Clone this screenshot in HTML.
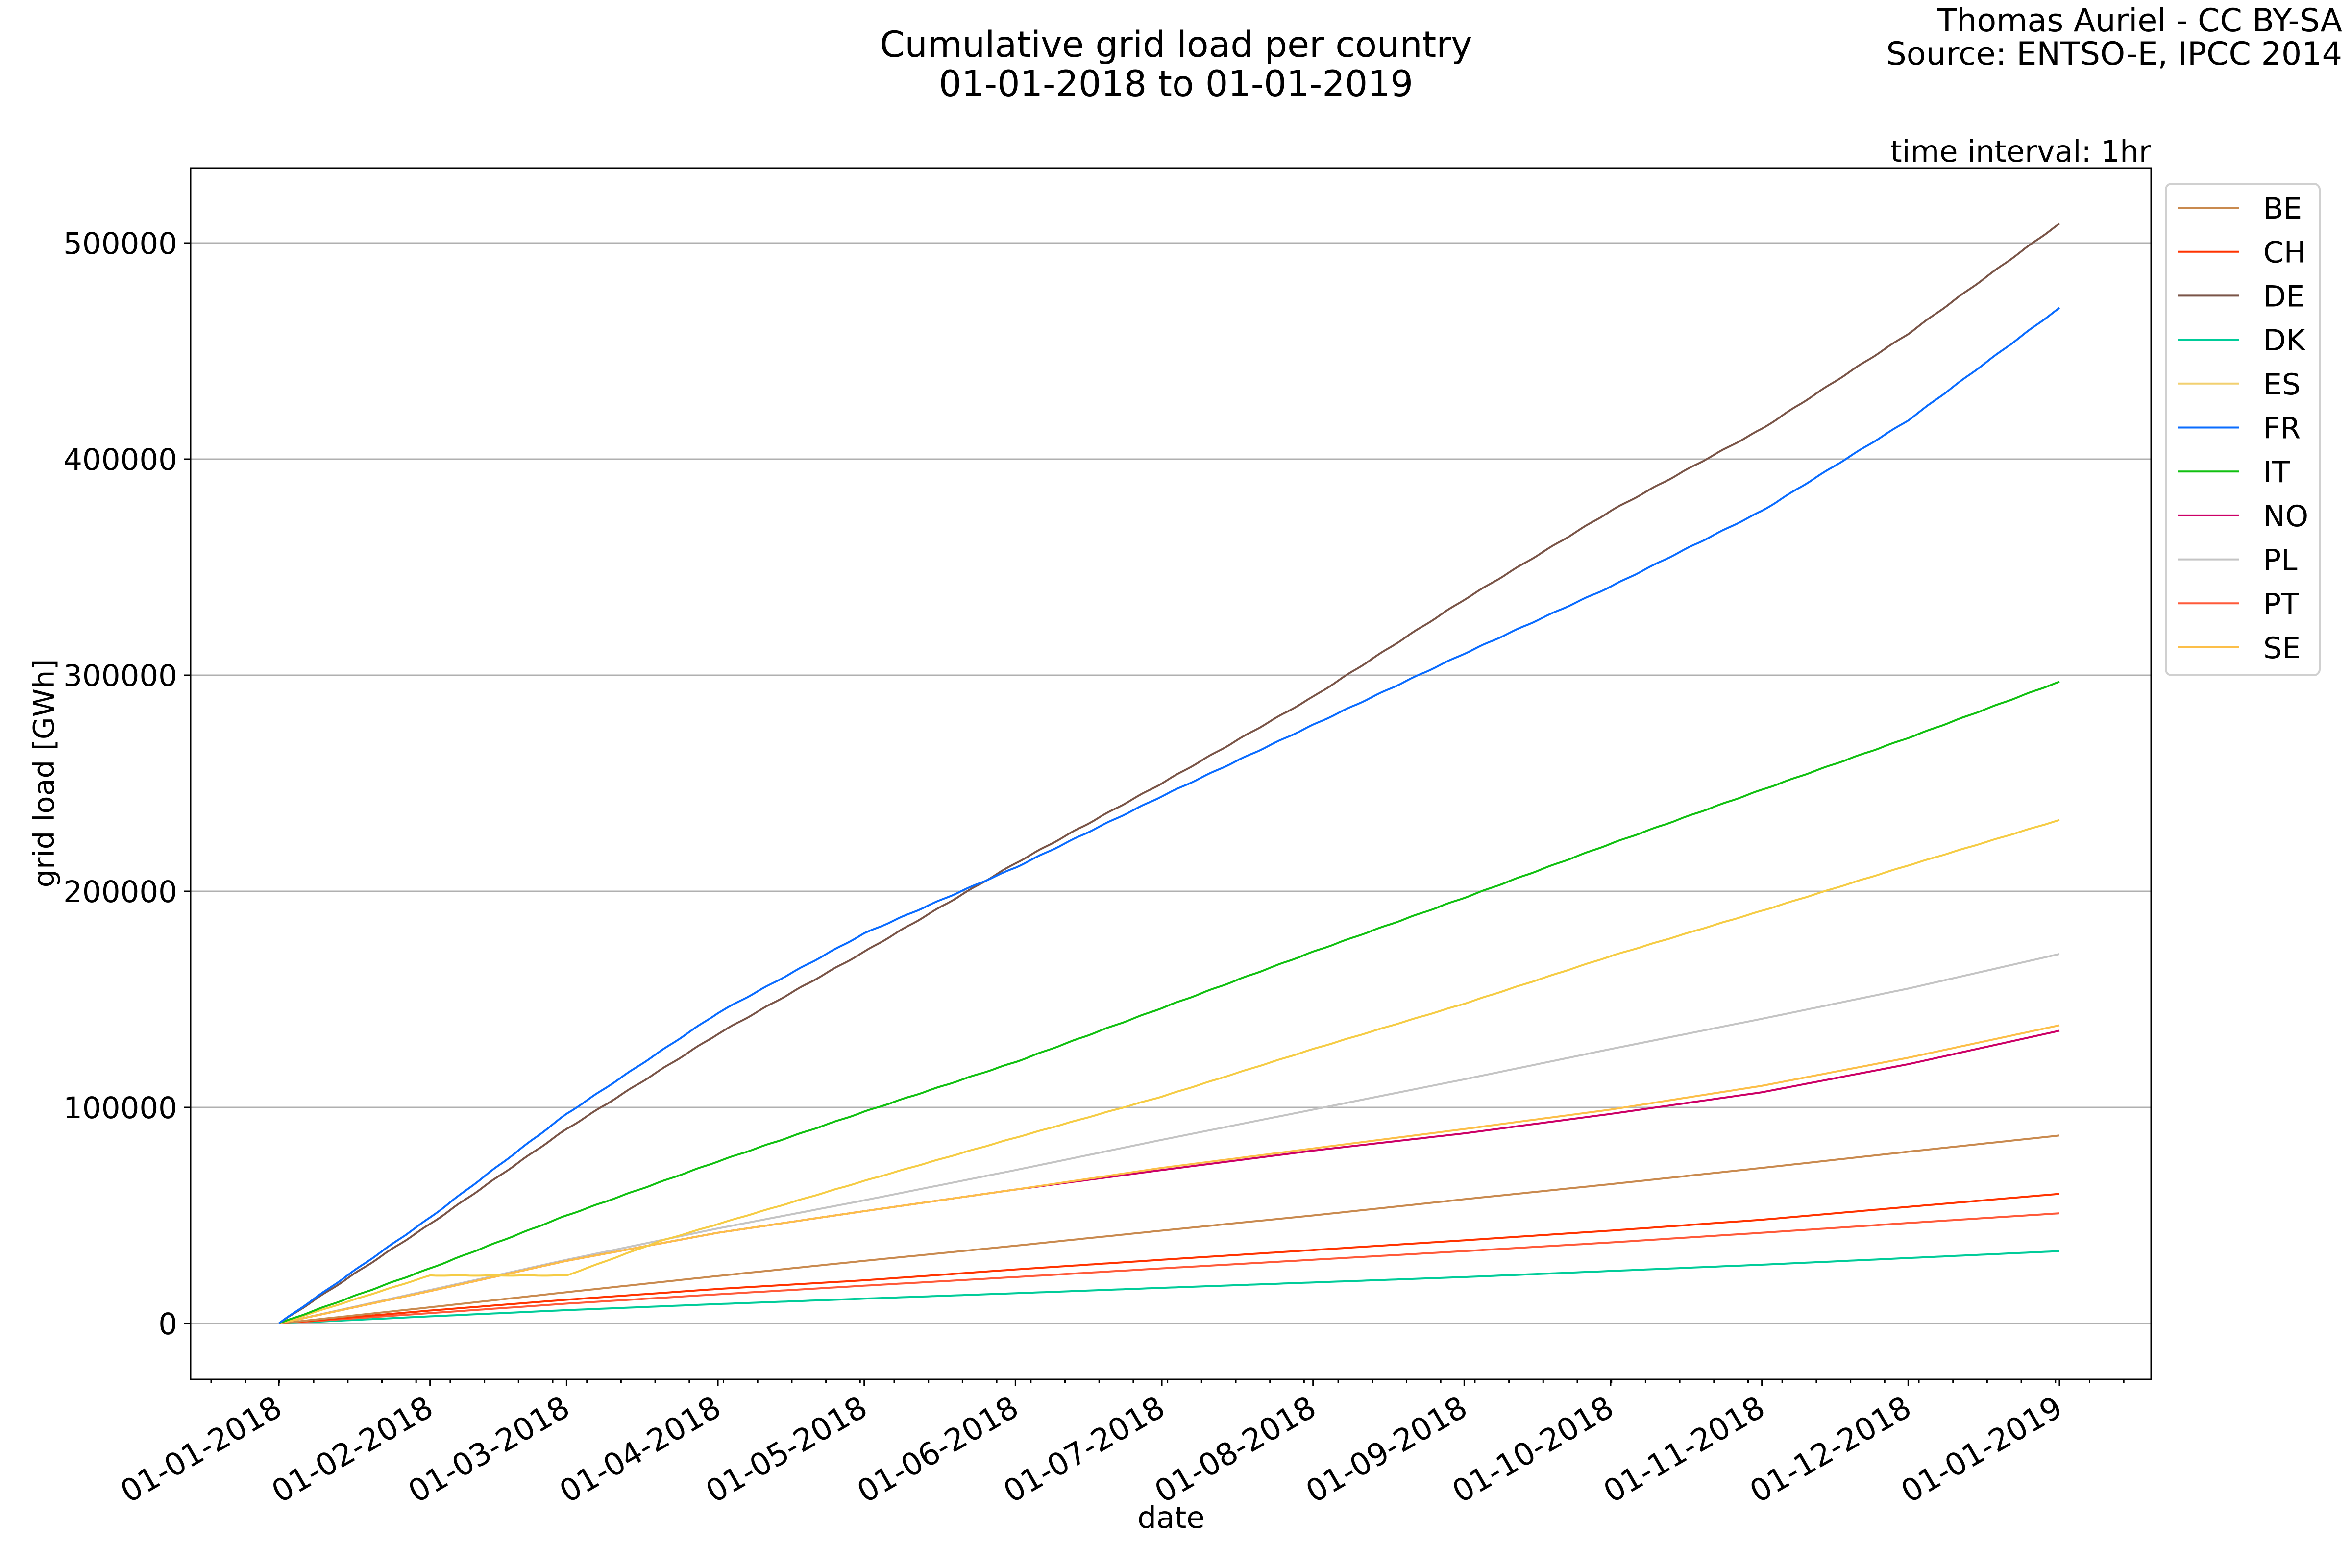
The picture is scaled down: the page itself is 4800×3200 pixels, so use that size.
<!DOCTYPE html>
<html><head><meta charset="utf-8"><style>
html,body{margin:0;padding:0;background:#fff}
svg{display:block;font-family:"DejaVu Sans","Liberation Sans",sans-serif}
</style></head><body>
<svg id="s" width="4800" height="3200" viewBox="0 0 4800 3200" xmlns="http://www.w3.org/2000/svg">
<rect width="4800" height="3200" fill="#fff"/>
<text x="2400" y="116" font-size="73" text-anchor="middle">Cumulative grid load per country</text>
<text x="2400" y="196" font-size="73" text-anchor="middle">01-01-2018 to 01-01-2019</text>
<text x="4780" y="64" font-size="65" text-anchor="end">Thomas Auriel - CC BY-SA</text>
<text x="4780" y="132" font-size="65" text-anchor="end">Source: ENTSO-E, IPCC 2014</text>
<text x="4390" y="330" font-size="61" text-anchor="end">time interval: 1hr</text>
<g id="grid"></g>
<g id="series"></g>
<rect x="389" y="343" width="4001" height="2472" fill="none" stroke="#000" stroke-width="3"/>
<g id="ticks"></g>
<text x="2390" y="3118" font-size="61" text-anchor="middle">date</text>
<text transform="translate(110,1578) rotate(-90)" font-size="59" text-anchor="middle">grid load [GWh]</text>
<rect x="4420" y="375" width="314" height="1003" rx="12" fill="#fff" stroke="#d0d0d0" stroke-width="4"/>
<g id="legend"></g>
</svg>
<script>
const NS="http://www.w3.org/2000/svg";
function el(p,t,a,txt){const e=document.createElementNS(NS,t);for(const k in a)e.setAttribute(k,a[k]);if(txt!==undefined)e.textContent=txt;document.getElementById(p).appendChild(e);return e;}
const X=d=>569+d*9.956, Y=v=>2701-v*0.00441;
for(let v=0;v<=500000;v+=100000){
  el("grid","line",{x1:389,x2:4390,y1:Y(v),y2:Y(v),stroke:"#b0b0b0","stroke-width":3});
  el("ticks","line",{x1:375,x2:389,y1:Y(v),y2:Y(v),stroke:"#000","stroke-width":3});
  el("ticks","text",{x:362,y:Y(v)+22,"font-size":61,"text-anchor":"end"},String(v));
}
for(let x=431;x<4390;x+=69.7){el("ticks","line",{x1:x,x2:x,y1:2815,y2:2823,stroke:"#000","stroke-width":3});}
const md=[0,31,59,90,120,151,181,212,243,273,304,334,365];
const ml=["01","02","03","04","05","06","07","08","09","10","11","12","01"];
md.forEach((d,i)=>{const x=X(d);
  el("ticks","line",{x1:x,x2:x,y1:2815,y2:2829,stroke:"#000","stroke-width":3});
  el("ticks","text",{transform:`translate(${x-12},2846) rotate(-30)`,"font-size":63,"text-anchor":"end",dy:"0.72em"},"01-"+ml[i]+"-"+(i==12?"2019":"2018"));
});
const S={
 BE:["#c98a4f",[0,7500,14500,22000,29000,36000,43000,50000,57500,64500,72000,79500,87000]],
 CH:["#ff3300",[0,6000,11000,16000,20000,25000,29500,34000,38500,43000,48000,54000,60000]],
 DE:["#7a5548",[0,46000,90000,134000,172000,213000,250000,290000,335000,376000,414000,458000,509000]],
 DK:["#00cc99",[0,3300,6200,9000,11500,14000,16500,19000,21500,24300,27200,30300,33500]],
 PL:["#c4c4c4",[0,15500,29500,44000,57000,71000,85000,99000,113000,127000,141000,155000,171000]],
 PT:["#ff5a3a",[0,4800,9200,13500,17500,21500,25500,29500,33500,37500,42000,46500,51000]],
 SE:["#fcbf49",[0,15000,29000,42000,52000,62000,72000,81000,90000,99000,110000,123000,138000]],
 NO:["#cc0066",[0,15000,29000,42000,52000,62000,71000,80000,88000,97000,107000,120000,135500]],
 FR:["#0a6cff",[0,49000,97000,143700,180500,211000,244000,277000,310000,341000,376000,418000,470000]],
 IT:["#11c011",[0,25500,50000,75000,98000,121000,146000,172000,197000,222000,247000,271000,297000]]
};
function interp(days,vals,d){for(let i=1;i<days.length;i++){if(d<=days[i]){const t=(d-days[i-1])/(days[i]-days[i-1]);return vals[i-1]+t*(vals[i]-vals[i-1]);}}return vals[vals.length-1];}
function draw(col,days,vals,wig){let p=[];for(let d=0;d<=365;d+=1){let v=interp(days,vals,d);if(wig&&d>0&&d<365)v+=wig*Math.sin(d*2*Math.PI/7);p.push(X(d).toFixed(1)+","+Y(v).toFixed(1));}
 el("series","polyline",{points:p.join(" "),fill:"none",stroke:col,"stroke-width":4,"stroke-linejoin":"round"});}
const ESd=[0,31,59,78,90,120,151,181,212,243,273,304,334,365];
const ESv=[0,22200,22200,38000,46000,66000,86000,105000,127000,148000,170000,191000,212000,233000];
const order=["BE","CH","DE","DK","ES","FR","IT","NO","PL","PT","SE"];
const ESc="#f5cc45";
["DK","PT","CH","BE","PL","NO","SE"].forEach(k=>draw(S[k][0],md,S[k][1],0));
draw(ESc,ESd,ESv,80);
draw(S.IT[0],md,S.IT[1],120);
draw(S.DE[0],md,S.DE[1],180);
draw(S.FR[0],md,S.FR[1],160);
const lc={BE:S.BE[0],CH:S.CH[0],DE:S.DE[0],DK:S.DK[0],ES:"#f2d070",FR:S.FR[0],IT:S.IT[0],NO:S.NO[0],PL:S.PL[0],PT:S.PT[0],SE:S.SE[0]};
order.forEach((k,i)=>{const y=424+i*89.7;
 el("legend","line",{x1:4445,x2:4569,y1:y,y2:y,stroke:lc[k],"stroke-width":4});
 el("legend","text",{x:4619,y:y+22,"font-size":60},k);
});
</script>
</body></html>
